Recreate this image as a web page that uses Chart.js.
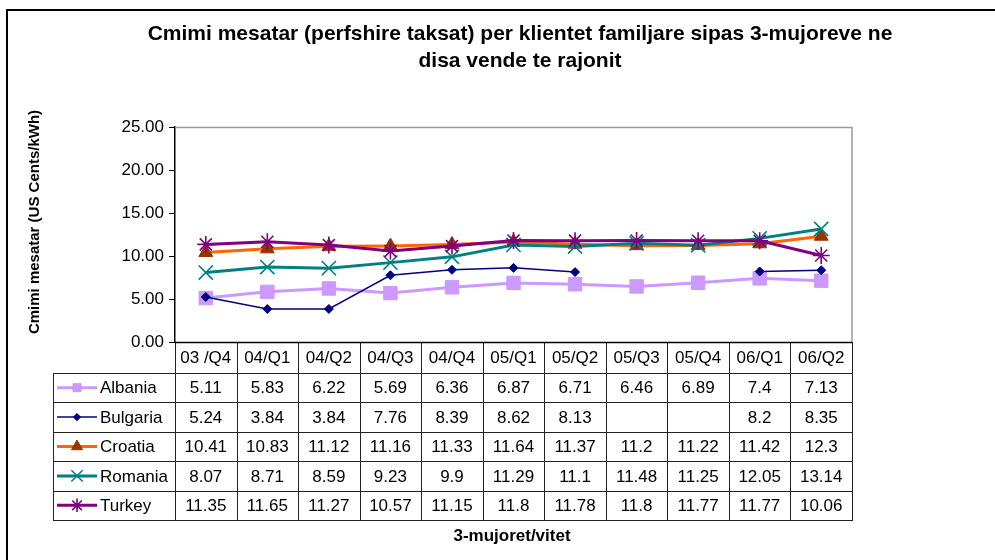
<!DOCTYPE html>
<html>
<head>
<meta charset="utf-8">
<script src="https://cdn.jsdelivr.net/npm/chart.js@4.4.1/dist/chart.umd.min.js"></script>
<style>
    html, body { margin: 0; padding: 0; background: #ffffff; }
    #wrap { width: 995px; height: 560px; position: relative; }
</style>
</head>
<body>
<div id="wrap"><canvas id="chart" width="995" height="560"></canvas></div>
<script>
// kategorite (3-mujoret)
const quarters  = ["03 /Q4", "04/Q1", "04/Q2", "04/Q3", "04/Q4", "05/Q1", "05/Q2", "05/Q3", "05/Q4", "06/Q1", "06/Q2"];

// vlerat per cdo vend
const albania   = [5.11, 5.83, 6.22, 5.69, 6.36, 6.87, 6.71, 6.46, 6.89, 7.4, 7.13];
const bulgaria  = [5.24, 3.84, 3.84, 7.76, 8.39, 8.62, 8.13, null, null, 8.2, 8.35];
const croatia   = [10.41, 10.83, 11.12, 11.16, 11.33, 11.64, 11.37, 11.2, 11.22, 11.42, 12.3];
const romania   = [8.07, 8.71, 8.59, 9.23, 9.9, 11.29, 11.1, 11.48, 11.25, 12.05, 13.14];
const turkey    = [11.35, 11.65, 11.27, 10.57, 11.15, 11.8, 11.78, 11.8, 11.77, 11.77, 10.06];

const y_ticks   = [0, 5, 10, 15, 20, 25];

const title_lines = ["Cmimi mesatar (perfshire taksat) per klientet familjare sipas 3-mujoreve ne", "disa vende te rajonit"];
const y_title   = "Cmimi mesatar (US Cents/kWh)";
const x_title   = "3-mujoret/vitet";

const FONT = "Arial, 'Liberation Sans', sans-serif";

const PLOT_LEFT   = 175;
const PLOT_RIGHT  = 852;
const PLOT_TOP    = 127;
const PLOT_BOTTOM = 342;

const HEADER_H  = 31;
const ROW_H     = 29.4;
const LEGEND_X  = 53;

function make_set(label, data, line_color, point_color, style, radius, line_width, point_border, order, legend_scale){
    return {
        label: label,
        data: data,
        borderColor: line_color,
        backgroundColor: point_color,
        pointBackgroundColor: point_color,
        pointBorderColor: point_color,
        pointStyle: style,
        pointRadius: radius,
        pointHoverRadius: radius,
        pointBorderWidth: point_border,
        borderWidth: line_width,
        tension: 0,
        spanGaps: false,
        order: order,
        legend_scale: legend_scale
    };
}

const datasets = [
    make_set("Albania",  albania,  "#CC99FF", "#CC99FF", "rect",     9.5, 3,   1,   5, 0.6),
    make_set("Bulgaria", bulgaria, "#000080", "#000080", "rectRot",  4.5, 1.5, 1,   4, 0.8),
    make_set("Croatia",  croatia,  "#FF6600", "#993300", "triangle", 8,   3,   1,   3, 0.8),
    make_set("Romania",  romania,  "#008080", "#008080", "crossRot", 10,  3,   1.6, 2, 0.8),
    make_set("Turkey",   turkey,   "#800080", "#800080", "star",     8.5, 3,   1.6, 1, 0.8)
];

// tabela e te dhenave dhe tekstet
const table_plugin = {
    id: "table_plugin",
    afterDraw(chart) {
        const ctx   = chart.ctx;
        const area  = chart.chartArea;
        const xs    = chart.scales.x;
        const col_w = (area.right - area.left) / quarters.length;

        ctx.save();

        // korniza e grafikut (lart / djathtas)
        ctx.strokeStyle = "#999999";
        ctx.lineWidth = 1.5;
        ctx.beginPath();
        ctx.moveTo(area.left, area.top + 0.5);
        ctx.lineTo(area.right, area.top + 0.5);
        ctx.lineTo(area.right, area.bottom);
        ctx.stroke();

        const head_top  = area.bottom;
        const rows_top  = head_top + HEADER_H;
        const rows_bot  = rows_top + ROW_H * datasets.length;

        ctx.strokeStyle = "#222222";
        ctx.lineWidth = 1;
        ctx.beginPath();
        // vijat vertikale
        for (let i = 0; i <= quarters.length; i++) {
            let x = Math.round(area.left + i * col_w) + 0.5;
            ctx.moveTo(x, head_top);
            ctx.lineTo(x, rows_bot);
        }
        ctx.moveTo(LEGEND_X + 0.5, rows_top);
        ctx.lineTo(LEGEND_X + 0.5, rows_bot);
        // vijat horizontale
        for (let r = 0; r <= datasets.length; r++) {
            let y = Math.round(rows_top + r * ROW_H) + 0.5;
            ctx.moveTo(LEGEND_X, y);
            ctx.lineTo(area.right + 1, y);
        }
        ctx.stroke();

        // boshti x
        ctx.strokeStyle = "#000000";
        ctx.lineWidth = 1.5;
        ctx.beginPath();
        ctx.moveTo(area.left, head_top + 0.5);
        ctx.lineTo(area.right, head_top + 0.5);
        ctx.stroke();

        ctx.fillStyle = "#000000";
        ctx.font = "17px " + FONT;
        ctx.textAlign = "center";
        ctx.textBaseline = "middle";
        for (let i = 0; i < quarters.length; i++) {
            let cx = xs.getPixelForValue(i);
            ctx.fillText(quarters[i], cx, head_top + HEADER_H / 2 + 1);
            for (let r = 0; r < datasets.length; r++) {
                let v = datasets[r].data[i];
                if (v === null) continue;
                ctx.fillText(String(v), cx, rows_top + r * ROW_H + ROW_H / 2 + 1);
            }
        }

        // legjenda
        for (let r = 0; r < datasets.length; r++) {
            let ds  = datasets[r];
            let cy  = rows_top + r * ROW_H + ROW_H / 2;
            ctx.strokeStyle = ds.borderColor;
            ctx.lineWidth = ds.borderWidth;
            ctx.beginPath();
            ctx.moveTo(57, cy);
            ctx.lineTo(97, cy);
            ctx.stroke();
            ctx.fillStyle = ds.pointBackgroundColor;
            ctx.strokeStyle = ds.pointBorderColor;
            ctx.lineWidth = ds.pointBorderWidth;
            Chart.helpers.drawPoint(ctx, {pointStyle: ds.pointStyle, radius: ds.pointRadius * ds.legend_scale, borderWidth: ds.pointBorderWidth, rotation: 0}, 77, cy);
            ctx.fillStyle = "#000000";
            ctx.textAlign = "left";
            ctx.fillText(ds.label, 100, cy + 1);
        }

        // titulli
        ctx.textAlign = "center";
        ctx.font = "bold 21px " + FONT;
        ctx.fillText(title_lines[0], 520, 34);
        ctx.fillText(title_lines[1], 520, 61);

        // titulli i boshtit x
        ctx.font = "bold 17px " + FONT;
        ctx.fillText(x_title, 512, 536);

        // titulli i boshtit y
        ctx.save();
        ctx.translate(35, 222);
        ctx.rotate(-Math.PI / 2);
        ctx.font = "bold 15px " + FONT;
        ctx.fillText(y_title, 0, 0);
        ctx.restore();

        // korniza e jashtme
        ctx.strokeStyle = "#000000";
        ctx.lineWidth = 2;
        ctx.beginPath();
        ctx.moveTo(7, 600);
        ctx.lineTo(7, 10);
        ctx.lineTo(1100, 10);
        ctx.stroke();

        ctx.restore();
    }
};

const ctx = document.getElementById("chart").getContext("2d");
const myChart = new Chart(ctx, {
    type: "line",
    data: {
        labels: quarters,
        datasets: datasets
    },
    options: {
        responsive: false,
        animation: false,
        layout: {
            padding: { left: 0, top: PLOT_TOP, right: 995 - PLOT_RIGHT, bottom: 560 - PLOT_BOTTOM }
        },
        scales: {
            x: {
                type: "category",
                offset: true,
                grid: { display: false },
                border: { display: false },
                ticks: { display: false },
                afterFit: function(s) { s.height = 0; }
            },
            y: {
                min: y_ticks[0],
                max: y_ticks[y_ticks.length - 1],
                afterBuildTicks: function(s) { s.ticks = y_ticks.map(v => ({ value: v })); },
                afterFit: function(s) { s.width = PLOT_LEFT; },
                grid: { drawOnChartArea: false, drawTicks: true, tickLength: 6, color: "#000000", lineWidth: 1 },
                border: { display: true, color: "#000000", width: 1.5 },
                ticks: {
                    color: "#000000",
                    font: { family: FONT, size: 17 },
                    padding: 5,
                    callback: function(v) { return Number(v).toFixed(2); }
                }
            }
        },
        plugins: {
            legend: { display: false },
            title: { display: false },
            tooltip: { enabled: false }
        }
    },
    plugins: [table_plugin]
});
</script>
</body>
</html>
